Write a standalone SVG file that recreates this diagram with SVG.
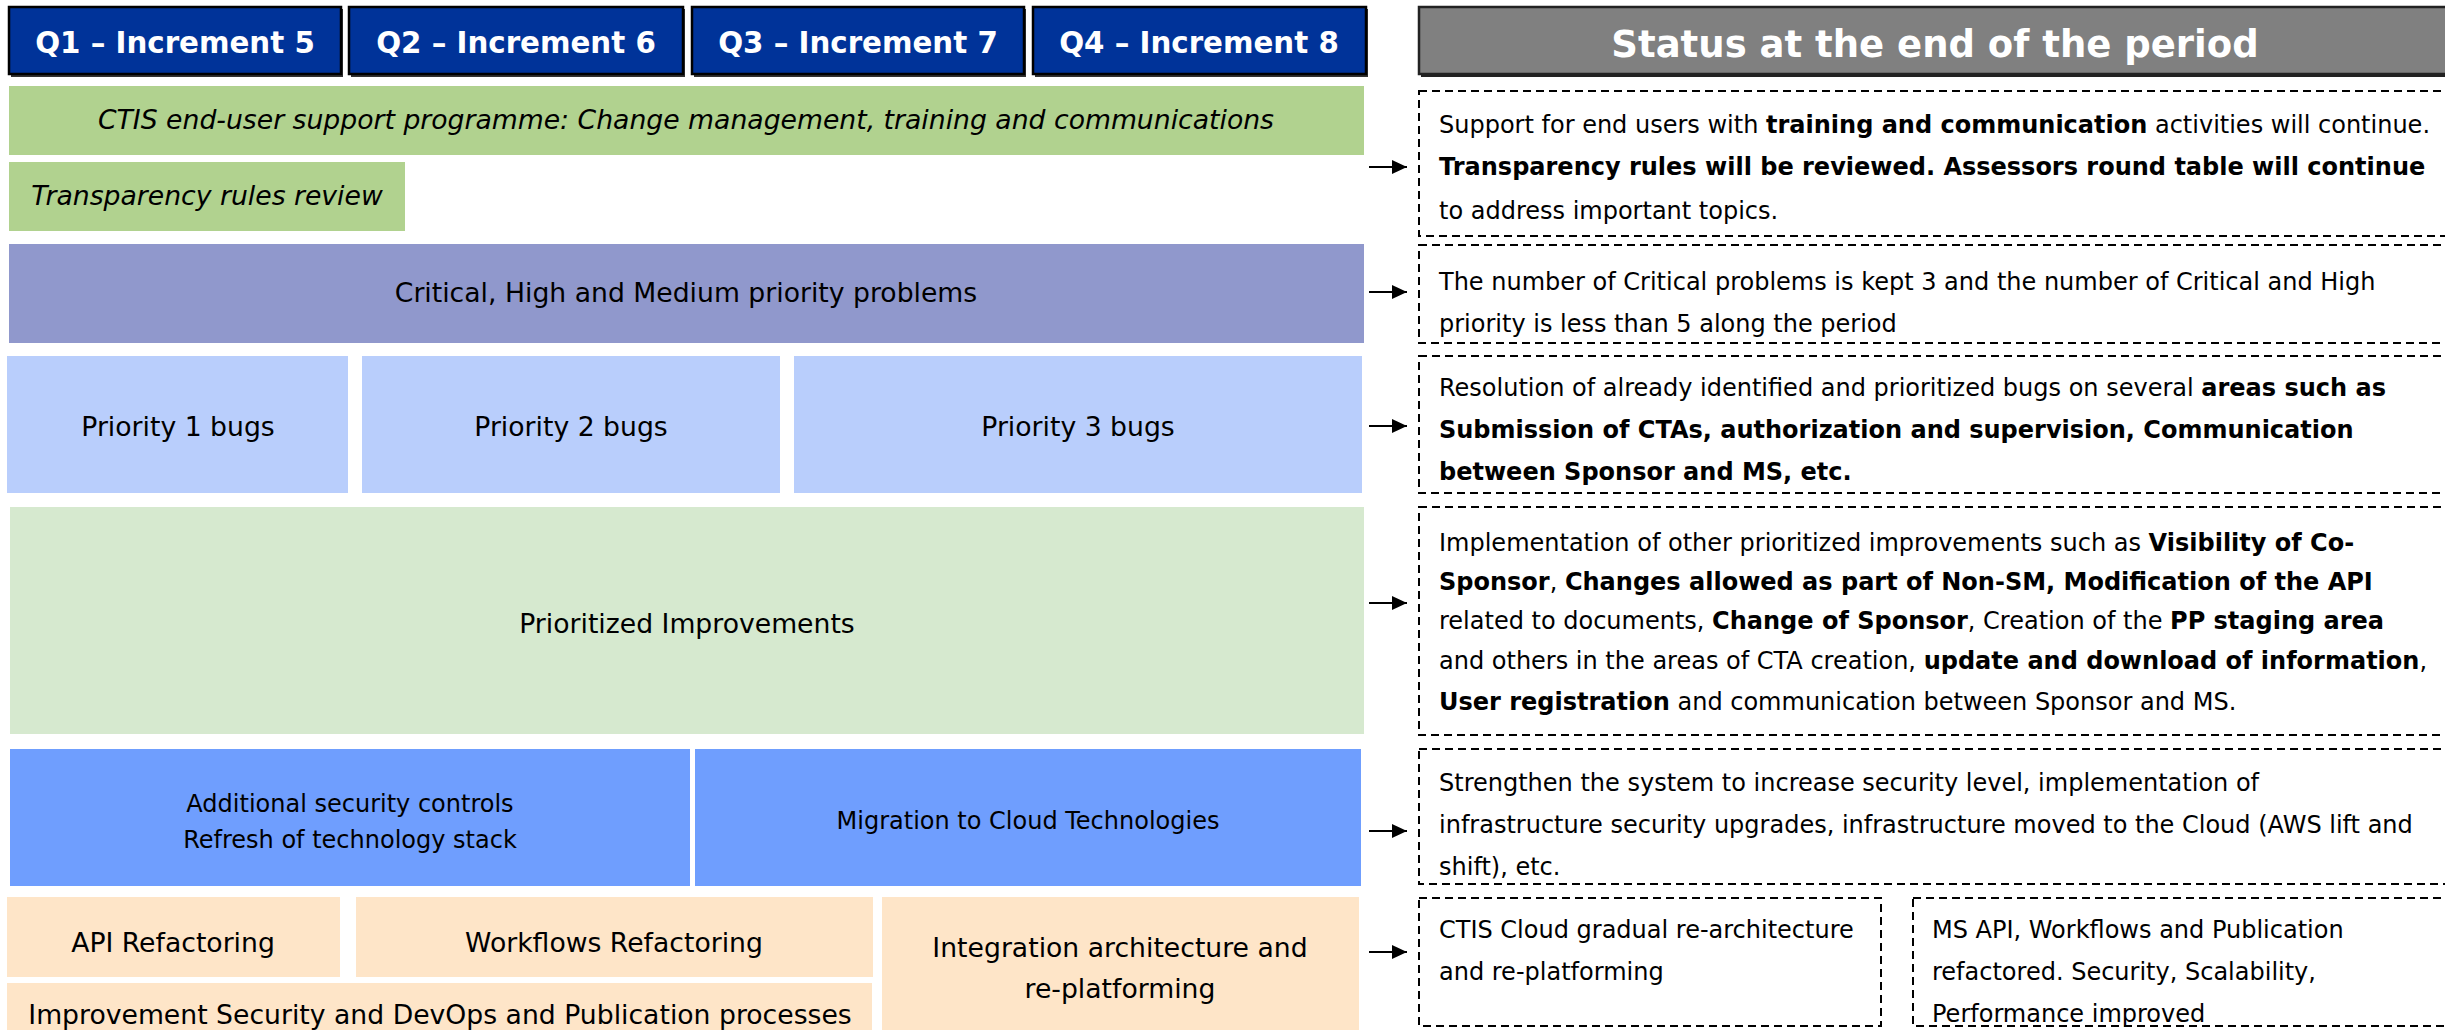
<svg xmlns="http://www.w3.org/2000/svg" width="2445" height="1030" viewBox="0 0 2445 1030">
<defs>
<style>
text{font-family:"DejaVu Sans","Verdana",sans-serif;fill:#000}
.hd{font-size:29.3px;font-weight:bold;fill:#fff}
.st{font-size:37px;font-weight:bold;fill:#fff}
.lb{font-size:26.67px}
.sm{font-size:24px}
.it{font-style:italic}
.rt{font-size:24px}
.b{font-weight:bold}
.qbox{fill:#003399;stroke:#000;stroke-width:2.5}
.dash{fill:#fff;stroke:#000;stroke-width:2;stroke-dasharray:8 5}
.conn{stroke:#000;stroke-width:2.2;fill:none}
</style>
<marker id="ah" viewBox="0 0 15 14" refX="15" refY="7" markerWidth="15" markerHeight="14" orient="auto" markerUnits="userSpaceOnUse">
<path d="M0,0 L15,7 L0,14 z" fill="#000"/>
</marker>
</defs>
<rect width="2445" height="1030" fill="#fff"/>

<g id="q1"><rect x="11" y="9" width="332" height="68" fill="#333"/><rect class="qbox" x="9" y="7" width="332" height="67"/><text class="hd" x="175" y="53" text-anchor="middle">Q1 – Increment 5</text></g>
<g id="q2"><rect x="351" y="9" width="334" height="68" fill="#333"/><rect class="qbox" x="349" y="7" width="334" height="67"/><text class="hd" x="516" y="53" text-anchor="middle">Q2 – Increment 6</text></g>
<g id="q3"><rect x="694" y="9" width="332" height="68" fill="#333"/><rect class="qbox" x="692" y="7" width="332" height="67"/><text class="hd" x="858" y="53" text-anchor="middle">Q3 – Increment 7</text></g>
<g id="q4"><rect x="1035" y="9" width="333" height="68" fill="#333"/><rect class="qbox" x="1033" y="7" width="333" height="67"/><text class="hd" x="1199" y="53" text-anchor="middle">Q4 – Increment 8</text></g>

<g id="status"><rect x="1421" y="9" width="1040" height="68" fill="#222"/><rect x="1419" y="7" width="1040" height="67" fill="#808080" stroke="#222" stroke-width="2.5"/><text class="st" x="1935" y="57" text-anchor="middle">Status at the end of the period</text></g>

<g id="support"><rect x="9" y="86" width="1355" height="69" fill="#B1D28F"/><text class="lb it" x="686" y="129" text-anchor="middle">CTIS end-user support programme: Change management, training and communications</text></g>
<g id="transparency"><rect x="9" y="162" width="396" height="69" fill="#B1D28F"/><text class="lb it" x="207" y="205" text-anchor="middle">Transparency rules review</text></g>

<g id="problems"><rect x="9" y="244" width="1355" height="99" fill="#9098CC"/><text class="lb" x="686" y="302" text-anchor="middle">Critical, High and Medium priority problems</text></g>

<g id="p1"><rect x="7" y="356" width="341" height="137" fill="#B9CEFC"/><text class="lb" x="178" y="436" text-anchor="middle">Priority 1 bugs</text></g>
<g id="p2"><rect x="362" y="356" width="418" height="137" fill="#B9CEFC"/><text class="lb" x="571" y="436" text-anchor="middle">Priority 2 bugs</text></g>
<g id="p3"><rect x="794" y="356" width="568" height="137" fill="#B9CEFC"/><text class="lb" x="1078" y="436" text-anchor="middle">Priority 3 bugs</text></g>

<g id="improvements"><rect x="10" y="507" width="1354" height="227" fill="#D6E9CF"/><text class="lb" x="687" y="633" text-anchor="middle">Prioritized Improvements</text></g>

<g id="security"><rect x="10" y="749" width="680" height="137" fill="#6F9EFE"/><text class="sm" x="350" y="812" text-anchor="middle">Additional security controls</text><text class="sm" x="350" y="848" text-anchor="middle">Refresh of technology stack</text></g>
<g id="cloud"><rect x="695" y="749" width="666" height="137" fill="#6F9EFE"/><text class="sm" x="1028" y="829" text-anchor="middle">Migration to Cloud Technologies</text></g>

<g id="api"><rect x="7" y="897" width="333" height="80" fill="#FEE5C8"/><text class="lb" x="173" y="952" text-anchor="middle">API Refactoring</text></g>
<g id="workflows"><rect x="356" y="897" width="517" height="80" fill="#FEE5C8"/><text class="lb" x="614" y="952" text-anchor="middle">Workflows Refactoring</text></g>
<g id="devops"><rect x="7" y="983" width="865" height="50" fill="#FEE5C8"/><text class="lb" x="440" y="1024" text-anchor="middle">Improvement Security and DevOps and Publication processes</text></g>
<g id="integration"><rect x="882" y="897" width="477" height="136" fill="#FEE5C8"/><text class="lb" x="1120" y="957" text-anchor="middle">Integration architecture and</text><text class="lb" x="1120" y="998" text-anchor="middle">re-platforming</text></g>

<g id="s1"><rect class="dash" x="1419" y="91" width="1040" height="145"/>
<text class="rt" x="1439" y="133">Support for end users with <tspan class="b">training and communication</tspan> activities will continue.</text>
<text class="rt b" x="1439" y="175">Transparency rules will be reviewed. Assessors round table will continue</text>
<text class="rt" x="1439" y="219">to address important topics.</text></g>

<g id="s2"><rect class="dash" x="1419" y="245" width="1040" height="98"/>
<text class="rt" x="1439" y="290">The number of Critical problems is kept 3 and the number of Critical and High</text>
<text class="rt" x="1439" y="332">priority is less than 5 along the period</text></g>

<g id="s3"><rect class="dash" x="1419" y="356" width="1040" height="137"/>
<text class="rt" x="1439" y="396">Resolution of already identified and prioritized bugs on several <tspan class="b">areas such as</tspan></text>
<text class="rt b" x="1439" y="438">Submission of CTAs, authorization and supervision, Communication</text>
<text class="rt b" x="1439" y="480">between Sponsor and MS, etc.</text></g>

<g id="s4"><rect class="dash" x="1419" y="507" width="1040" height="228"/>
<text class="rt" x="1439" y="551">Implementation of other prioritized improvements such as <tspan class="b">Visibility of Co-</tspan></text>
<text class="rt" x="1439" y="590"><tspan class="b">Sponsor</tspan>, <tspan class="b">Changes allowed as part of Non-SM, Modification of the API</tspan></text>
<text class="rt" x="1439" y="629">related to documents, <tspan class="b">Change of Sponsor</tspan>, Creation of the <tspan class="b">PP staging area</tspan></text>
<text class="rt" x="1439" y="669">and others in the areas of CTA creation, <tspan class="b">update and download of information</tspan>,</text>
<text class="rt" x="1439" y="710"><tspan class="b">User registration</tspan> and communication between Sponsor and MS.</text></g>

<g id="s5"><rect class="dash" x="1419" y="749" width="1040" height="135"/>
<text class="rt" x="1439" y="791">Strengthen the system to increase security level, implementation of</text>
<text class="rt" x="1439" y="833">infrastructure security upgrades, infrastructure moved to the Cloud (AWS lift and</text>
<text class="rt" x="1439" y="875">shift), etc.</text></g>

<g id="s6a"><rect class="dash" x="1419" y="898" width="462" height="128"/>
<text class="rt" x="1439" y="938">CTIS Cloud gradual re-architecture</text>
<text class="rt" x="1439" y="980">and re-platforming</text></g>

<g id="s6b"><rect class="dash" x="1913" y="898" width="546" height="128"/>
<text class="rt" x="1932" y="938">MS API, Workflows and Publication</text>
<text class="rt" x="1932" y="980">refactored. Security, Scalability,</text>
<text class="rt" x="1932" y="1022">Performance improved</text></g>

<g id="connectors">
<line class="conn" x1="1369" y1="167" x2="1407" y2="167" marker-end="url(#ah)"/>
<line class="conn" x1="1369" y1="292" x2="1407" y2="292" marker-end="url(#ah)"/>
<line class="conn" x1="1369" y1="426" x2="1407" y2="426" marker-end="url(#ah)"/>
<line class="conn" x1="1369" y1="603" x2="1407" y2="603" marker-end="url(#ah)"/>
<line class="conn" x1="1369" y1="831" x2="1407" y2="831" marker-end="url(#ah)"/>
<line class="conn" x1="1369" y1="952" x2="1407" y2="952" marker-end="url(#ah)"/>
</g>
</svg>
